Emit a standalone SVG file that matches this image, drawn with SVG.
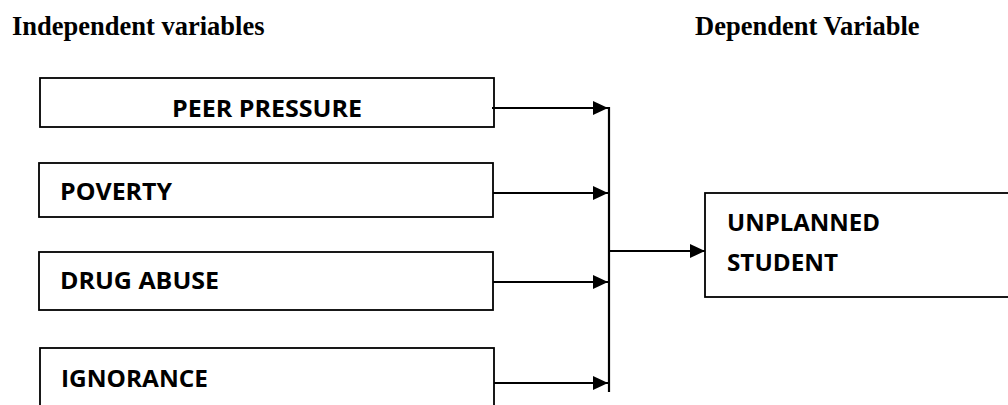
<svg xmlns="http://www.w3.org/2000/svg" width="1008" height="405" viewBox="0 0 1008 405">
<style>
.box{fill:#fff;stroke:#000;stroke-width:1.8}
.lbl{font-family:"Open Sans","Liberation Sans",sans-serif;font-weight:bold;font-size:24px;fill:#000}
.hdr{font-family:"Liberation Serif","Times New Roman",serif;font-weight:bold;font-size:26.5px;fill:#000}
.conn{stroke:#000;stroke-width:2.2;fill:none}
</style>
<defs>
<marker id="ah" markerWidth="15" markerHeight="14" refX="15" refY="7" orient="auto" markerUnits="userSpaceOnUse" viewBox="0 0 15 14">
<path d="M0,0 L15,7 L0,14 Z" fill="#000"/>
</marker>
</defs>
<rect width="1008" height="405" fill="#fff"/>
<text class="hdr" x="12" y="35">Independent variables</text>
<text class="hdr" x="695" y="35">Dependent Variable</text>
<g id="node-peer">
<rect class="box" x="40" y="78" width="454" height="49"/>
<text class="lbl" x="172" y="117" textLength="190" lengthAdjust="spacingAndGlyphs">PEER PRESSURE</text>
</g>
<g id="node-poverty">
<rect class="box" x="39" y="163" width="454" height="54"/>
<text class="lbl" x="60" y="200" textLength="112" lengthAdjust="spacingAndGlyphs">POVERTY</text>
</g>
<g id="node-drug">
<rect class="box" x="39" y="252" width="454" height="58"/>
<text class="lbl" x="60" y="289" textLength="159" lengthAdjust="spacingAndGlyphs">DRUG ABUSE</text>
</g>
<g id="node-ignorance">
<rect class="box" x="40" y="348" width="454" height="70"/>
<text class="lbl" x="61" y="387" textLength="147" lengthAdjust="spacingAndGlyphs">IGNORANCE</text>
</g>
<g id="node-unplanned">
<rect class="box" x="705" y="193" width="330" height="104"/>
<text class="lbl" x="727" y="231" textLength="153" lengthAdjust="spacingAndGlyphs">UNPLANNED</text>
<text class="lbl" x="727" y="271" textLength="111" lengthAdjust="spacingAndGlyphs">STUDENT</text>
</g>
<g id="connectors">
<line class="conn" x1="492" y1="108" x2="608" y2="108" marker-end="url(#ah)"/>
<line class="conn" x1="493" y1="193" x2="608" y2="193" marker-end="url(#ah)"/>
<line class="conn" x1="493" y1="282" x2="608" y2="282" marker-end="url(#ah)"/>
<line class="conn" x1="494" y1="383" x2="608" y2="383" marker-end="url(#ah)"/>
<line class="conn" x1="609" y1="107" x2="609" y2="392"/>
<line class="conn" x1="609" y1="251" x2="705" y2="251" marker-end="url(#ah)"/>
</g>
</svg>
